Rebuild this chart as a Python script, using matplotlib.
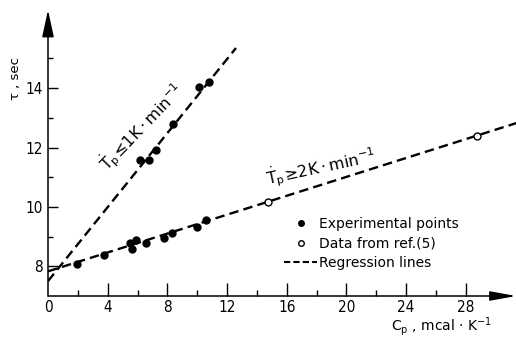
import matplotlib
matplotlib.use("Agg")
import matplotlib.pyplot as plt
from matplotlib.lines import Line2D
import numpy as np

# ---- data ----
exp_low_x = [1.96, 3.73, 5.50, 5.65, 5.90, 6.55, 7.77, 8.29, 10.00, 10.59]
exp_low_y = [8.08, 8.37, 8.79, 8.58, 8.88, 8.79, 8.94, 9.12, 9.33, 9.57]
exp_high_x = [6.17, 6.75, 7.22, 8.39, 10.14, 10.81]
exp_high_y = [11.57, 11.57, 11.93, 12.79, 14.04, 14.21]
ref_x = [14.77, 28.73]
ref_y = [10.18, 12.40]
# regression lines (intercept, slope, x-range)
reg_high = dict(b=7.50, m=0.623, x0=0.0, x1=12.6)
reg_low = dict(b=7.83, m=0.159, x0=0.0, x1=31.4)

x_major = [4, 8, 12, 16, 20, 24, 28]
x_minor = [2, 6, 10, 14, 18, 22, 26]
y_major = [8, 10, 12, 14]
y_minor = [9, 11, 13, 15]

label_high = r'$\dot{\mathrm{T}}_\mathrm{p}\!\leq\!1\mathrm{K}\cdot\mathrm{min}^{-1}$'
label_low = r'$\dot{\mathrm{T}}_\mathrm{p}\!\geq\!2\mathrm{K}\cdot\mathrm{min}^{-1}$'
legend_labels = ['Experimental points', 'Data from ref.(5)', 'Regression lines']

W, H = 516, 337
fig = plt.figure(figsize=(W / 100, H / 100), dpi=100)
ax = fig.add_axes([48 / W, (H - 296) / H, 468 / W, 286 / H])
ax.set_xlim(0, 31.37)
ax.set_ylim(7.0, 7.0 + 286 / 29.7)
for s in ax.spines.values():
    s.set_visible(False)

dash = (4, 2.2)
for r in (reg_high, reg_low):
    xs = np.array([r['x0'], r['x1']])
    ax.plot(xs, r['b'] + r['m'] * xs, color='black', lw=1.7,
            linestyle=(0, dash), dash_capstyle='butt')

ax.plot(exp_low_x, exp_low_y, 'o', color='black', ms=5, zorder=3)
ax.plot(exp_high_x, exp_high_y, 'o', color='black', ms=5, zorder=3)
ax.plot(ref_x, ref_y, 'o', mfc='white', mec='black', mew=1.0, ms=5, zorder=3)

# axes arrows
ax.annotate('', xy=(0, 1), xytext=(0, 0), xycoords='axes fraction',
            arrowprops=dict(arrowstyle='-|>,head_length=1.66,head_width=0.36',
                            mutation_scale=10, color='black', lw=1.1,
                            shrinkA=0, shrinkB=0), annotation_clip=False)
ax.annotate('', xy=(1, 0), xytext=(0, 0), xycoords='axes fraction',
            arrowprops=dict(arrowstyle='-|>,head_length=1.58,head_width=0.29',
                            mutation_scale=10, color='black', lw=1.1,
                            shrinkA=0, shrinkB=0), annotation_clip=False)

ax.set_xticks([0] + x_major)
ax.set_xticks(x_minor, minor=True)
ax.set_yticks(y_major)
ax.set_yticks(y_minor, minor=True)
ax.tick_params(axis='x', which='major', direction='in', length=9.4, width=1.0, pad=3)
ax.tick_params(axis='x', which='minor', direction='in', length=4.3, width=1.0)
ax.tick_params(axis='y', which='major', direction='in', length=7, width=1.0, pad=3.6)
ax.tick_params(axis='y', which='minor', direction='in', length=3.5, width=1.0)
ax.set_xticklabels(['0'] + [str(v) for v in x_major])
for lab in ax.get_xticklabels() + ax.get_yticklabels():
    lab.set_family('DejaVu Sans')
    lab.set_stretch('condensed')
    lab.set_fontsize(11)
ax.xaxis.get_major_ticks()[0].tick1line.set_visible(False)

# axis labels
fig.text(16 / W, 1 - 78 / H, 'τ , sec', rotation=90, ha='center', va='center',
         fontsize=9.5, family='DejaVu Sans')
fig.text(441 / W, 1 - 331 / H, r'C$_\mathrm{p}$ , mcal · K$^{-1}$', ha='center', va='baseline',
         fontsize=10, family='DejaVu Sans')

# line annotations
ax.text(6.3, 12.7, label_high, rotation=46, ha='center', va='center', fontsize=11.5)
ax.text(18.3, 11.36, label_low, rotation=12, ha='center', va='center', fontsize=11.5)

handles = [Line2D([], [], marker='o', color='black', ls='none', ms=4),
           Line2D([], [], marker='o', mfc='white', mec='black', ls='none', ms=4),
           Line2D([], [], color='black', lw=1.5, linestyle=(0, (3, 1.5)))]
leg = fig.legend(handles, legend_labels, loc='upper left',
                 bbox_to_anchor=(284 / W, 1 - 217 / H), bbox_transform=fig.transFigure,
                 frameon=False, borderpad=0, borderaxespad=0, handlelength=2.4,
                 handletextpad=0.1, labelspacing=0.4, prop=dict(family='DejaVu Sans', size=10))

fig.savefig('out.png', dpi=100)
